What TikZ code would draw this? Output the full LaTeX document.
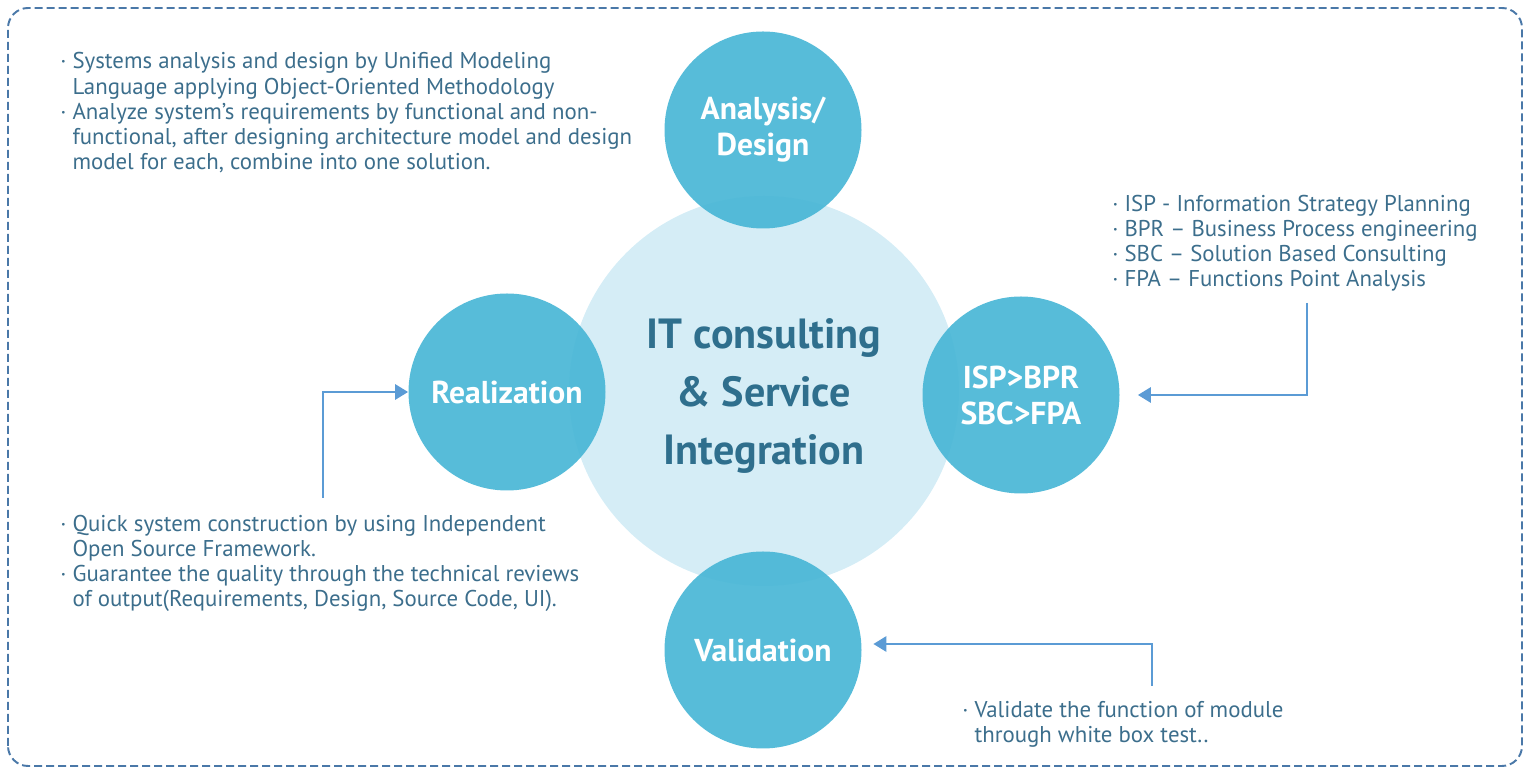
\documentclass[tikz,border=0pt]{standalone}
\usepackage{fontspec}
\setmainfont{PT Sans}
\usetikzlibrary{arrows.meta}

\definecolor{frameblue}{HTML}{4A78A8}
\definecolor{ringblue}{HTML}{D5EDF6}
\definecolor{circblue}{HTML}{45B5D5}
\definecolor{textblue}{HTML}{3C6E8C}
\definecolor{headblue}{HTML}{2F6F8D}
\definecolor{arrowblue}{HTML}{5B9BD5}

\tikzset{
  phase/.style={circle, fill=circblue, fill opacity=0.9, text opacity=1, text=white,
    minimum size=3.94cm, inner sep=0pt, align=center,
    font=\fontsize{18}{20.5}\selectfont\bfseries},
  note/.style={anchor=base west, inner sep=0pt, align=left, text=textblue,
    font=\fontsize{13}{14.4}\selectfont},
  flow/.style={draw=arrowblue, line width=1.6pt, -{Triangle[length=0.26cm,width=0.3cm]}},
}

\begin{document}
\begin{tikzpicture}
    \useasboundingbox (0,0) rectangle (30.5,15.42);
    % frame
    \draw[frameblue, line width=1.1pt, dash pattern=on 0.16cm off 0.08cm, rounded corners=0.4cm] (0.16,0.1) rectangle (30.44,15.26);
    % centre
    \node[circle, fill=ringblue, minimum size=7.8cm, inner sep=0pt] (core) at (15.28,7.6) {};
    \node[align=center, text=headblue, font=\fontsize{24}{33}\selectfont\bfseries] (coretxt) at ([yshift=-0.1cm]core.center) {IT consulting\\\& Service\\Integration};
    % phases
    \node[phase] (ana) at (15.26,12.82) {Analysis/\\Design};
    \node[phase] (real) at (10.14,7.58) {Realization};
    \node[phase] (isp) at (20.42,7.52) {ISP>BPR\\SBC>FPA};
    \node[phase] (val) at (15.26,2.42) {Validation};
    % notes (anchored at the last line)
    \node[note] (anatxt) at (1.2,12.02) {· Systems analysis and design by Unified Modeling\\\phantom{· }Language applying Object-Oriented Methodology\\· Analyze system’s requirements by functional and non-\\\phantom{· }functional, after designing architecture model and design\\\phantom{· }model for each, combine into one solution.};
    \node[note] (isptxt) at (22.24,9.68) {· ISP - Information Strategy Planning\\· BPR – Business Process engineering\\· SBC – Solution Based Consulting\\· FPA – Functions Point Analysis};
    \node[note] (realtxt) at (1.2,3.28) {· Quick system construction by using Independent\\\phantom{· }Open Source Framework.\\· Guarantee the quality through the technical reviews\\\phantom{· }of output(Requirements, Design, Source Code, UI).};
    \node[note] (valtxt) at (19.24,0.56) {· Validate the function of module\\\phantom{· }through white box test..};
    % arrows
    \coordinate (realtail) at (6.46,5.46);
    \coordinate (isptail) at (26.14,9.36);
    \coordinate (valtail) at (23.04,1.7);
    \draw[flow] (realtail) |- (real);
    \draw[flow, shorten >=0.36cm] (isptail) |- (isp);
    \draw[flow, shorten >=0.23cm] (valtail) |- ([yshift=0.12cm]val.east);
\end{tikzpicture}
\end{document}
